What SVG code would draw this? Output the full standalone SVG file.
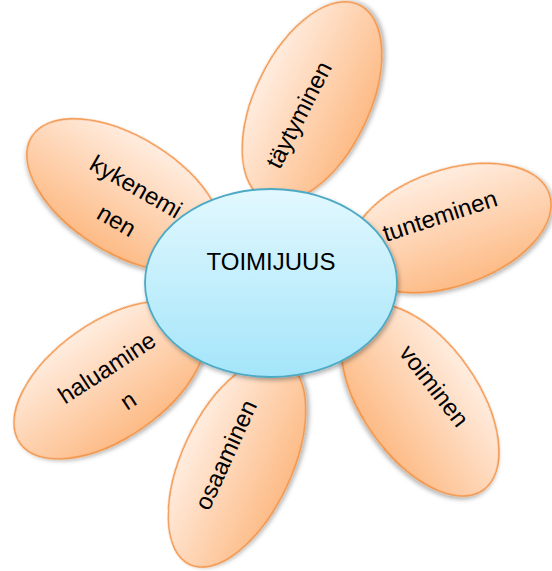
<svg xmlns="http://www.w3.org/2000/svg" width="552" height="571" viewBox="0 0 552 571">
<defs>
<linearGradient id="petalGrad" x1="0" y1="0" x2="0" y2="1">
<stop offset="0" stop-color="#FFEDE0"/>
<stop offset="1" stop-color="#FDBB86"/>
</linearGradient>
<linearGradient id="centerGrad" x1="0" y1="0" x2="0" y2="1">
<stop offset="0" stop-color="#E2F8FE"/>
<stop offset="1" stop-color="#A4E5FA"/>
</linearGradient>
<filter id="shadow" x="-20%" y="-20%" width="140%" height="140%">
<feDropShadow dx="1.5" dy="2.5" stdDeviation="2" flood-color="#000" flood-opacity="0.3"/>
</filter>
</defs>
<style>
.petal{fill:url(#petalGrad);stroke:#F39140;stroke-width:1.5;filter:url(#shadow)}
.hub{fill:url(#centerGrad);stroke:#4DAAC4;stroke-width:1.8;filter:url(#shadow)}
text{font-family:"Liberation Sans",Arial,sans-serif;font-size:24px;fill:#000;text-anchor:middle}
</style>
<g id="connectors"></g>
<g id="taytyminen">
<ellipse class="petal" cx="0" cy="0" rx="108" ry="57" transform="translate(312,102) rotate(-64)"/>
<text transform="translate(299,115) rotate(-63)" x="0" y="8">täytyminen</text>
</g>
<g id="tunteminen">
<ellipse class="petal" cx="0" cy="0" rx="105" ry="58" transform="translate(450,228) rotate(-19)"/>
<text transform="translate(440,216) rotate(-18)" x="0" y="8">tunteminen</text>
</g>
<g id="voiminen">
<ellipse class="petal" cx="0" cy="0" rx="110" ry="58" transform="translate(420,400) rotate(55)"/>
<text transform="translate(434,386) rotate(52)" x="0" y="8">voiminen</text>
</g>
<g id="osaaminen">
<ellipse class="petal" cx="0" cy="0" rx="112" ry="55" transform="translate(237,463) rotate(-65)"/>
<text transform="translate(226,455) rotate(-65.5)" x="0" y="8">osaaminen</text>
</g>
<g id="haluaminen">
<ellipse class="petal" cx="0" cy="0" rx="110" ry="58" transform="translate(110,380) rotate(-35)"/>
<text transform="translate(107,368) rotate(-33)"><tspan x="0" y="8">haluamine</tspan><tspan x="0" y="47">n</tspan></text>
</g>
<g id="kykeneminen">
<ellipse class="petal" cx="0" cy="0" rx="110" ry="58" transform="translate(125,195) rotate(32)"/>
<text transform="translate(136,187) rotate(30)"><tspan x="0" y="8">kykenemi</tspan><tspan x="0" y="47">nen</tspan></text>
</g>
<g id="toimijuus">
<ellipse class="hub" cx="271" cy="283" rx="126" ry="94"/>
<text x="271" y="270">TOIMIJUUS</text>
</g>
</svg>
